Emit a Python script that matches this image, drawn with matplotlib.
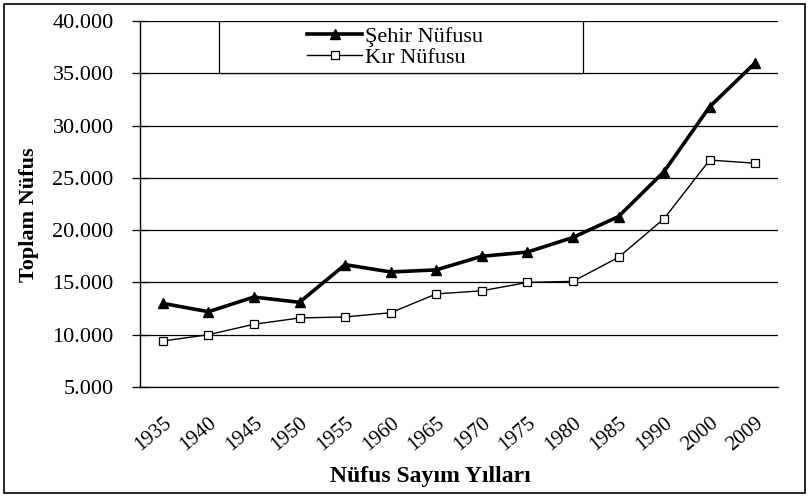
import matplotlib.pyplot as plt
from matplotlib.patches import Rectangle
from matplotlib.ticker import FuncFormatter

years = ['1935', '1940', '1945', '1950', '1955', '1960', '1965', '1970',
         '1975', '1980', '1985', '1990', '2000', '2009']
sehir = [13000, 12200, 13600, 13100, 16700, 16000, 16200, 17500,
         17900, 19300, 21300, 25600, 31800, 36000]
kir = [9400, 10000, 11000, 11600, 11700, 12100, 13900, 14200,
       15000, 15100, 17400, 21100, 26700, 26400]

plt.rcParams['font.family'] = ['Liberation Serif', 'DejaVu Serif']

fig = plt.figure(figsize=(8.09, 4.97), dpi=100)
ax = fig.add_axes([140 / 809, 1 - 387 / 497, 638 / 809, 366 / 497])

# outer frame of the picture
fig.patches.append(Rectangle((4 / 809, 4 / 497), 801 / 809, 489 / 497,
                             transform=fig.transFigure, fill=False,
                             edgecolor='black', linewidth=1.2))

x = list(range(len(years)))
ax.plot(x, sehir, color='black', linewidth=2.6, marker='^', markersize=7,
        label='Şehir Nüfusu')
ax.plot(x, kir, color='black', linewidth=1.0, marker='s', markersize=6,
        markerfacecolor='white', markeredgewidth=0.9, label='Kır Nüfusu')

ax.set_xlim(-0.5, len(years) - 0.5)
ax.set_ylim(5000, 40000)
ax.set_yticks(range(5000, 40001, 5000))
ax.yaxis.set_major_formatter(FuncFormatter(lambda v, p: f'{int(v):,}'.replace(',', '.')))
ax.yaxis.grid(True, color='black', linewidth=0.9)
ax.set_axisbelow(True)

ax.set_xticks(x)
ax.set_xticklabels(years, rotation=40, ha='right', rotation_mode='anchor')
ax.tick_params(axis='x', length=0, pad=19, labelsize=15)
ax.tick_params(axis='y', direction='inout', length=12, width=0.9, pad=13, labelsize=16)

for side in ['top', 'right']:
    ax.spines[side].set_visible(False)
ax.spines['bottom'].set_linewidth(0.9)
ax.spines['left'].set_linewidth(1.0)

ax.set_ylabel('Toplam Nüfus', fontsize=16, fontweight='bold')
ax.yaxis.set_label_coords(-0.158, 0.47)
ax.set_xlabel('Nüfus Sayım Yılları', fontsize=17, fontweight='bold')
ax.xaxis.set_label_coords(0.455, -0.215)

# legend box drawn like the original
x0, x1 = (219 - 140) / 638, (583 - 140) / 638
ax.add_patch(Rectangle((x0, 30 / 35), x1 - x0, 5 / 35, transform=ax.transAxes,
                       fill=True, facecolor='white', edgecolor='black',
                       linewidth=0.9, zorder=3))
leg = ax.legend(loc='center', bbox_to_anchor=(x0 - 0.01, 30 / 35, x1 - x0, 5 / 35),
                frameon=False, fontsize=16, handlelength=2.5, handletextpad=0.1,
                labelspacing=0.0, borderpad=0.0, borderaxespad=0.0)
leg.set_zorder(4)

fig.savefig('out.png', dpi=100)
